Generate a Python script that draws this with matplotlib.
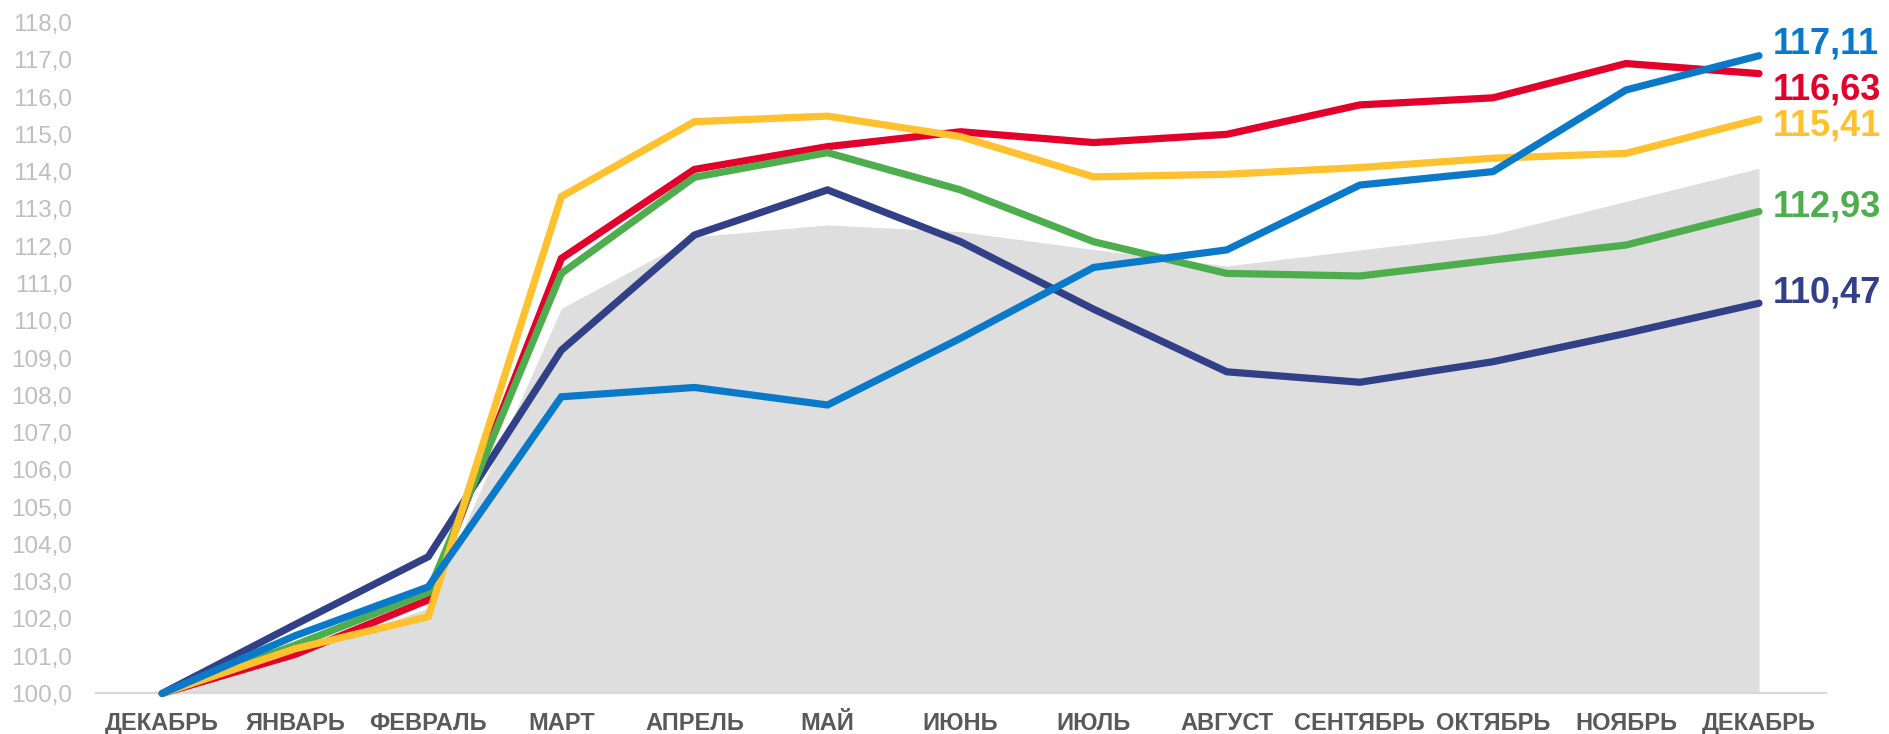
import matplotlib
matplotlib.use("Agg")
import matplotlib.pyplot as plt
from matplotlib.ticker import FuncFormatter

plt.rcParams['font.family'] = ['Liberation Sans', 'DejaVu Sans']

months = ["ДЕКАБРЬ", "ЯНВАРЬ", "ФЕВРАЛЬ", "МАРТ", "АПРЕЛЬ", "МАЙ", "ИЮНЬ",
          "ИЮЛЬ", "АВГУСТ", "СЕНТЯБРЬ", "ОКТЯБРЬ", "НОЯБРЬ", "ДЕКАБРЬ"]

# серая область (фон)
area = [100.0, 101.0, 102.3, 110.33, 112.25, 112.57, 112.39, 111.91, 111.47,
        111.9, 112.32, 113.2, 114.09]

navy = [100.0, 101.85, 103.67, 109.21, 112.30, 113.51, 112.12, 110.31, 108.63,
        108.35, 108.9, 109.66, 110.47]
red = [100.0, 101.05, 102.51, 111.67, 114.06, 114.67, 115.07, 114.78, 115.0,
       115.79, 115.98, 116.9, 116.63]
green = [100.0, 101.3, 102.71, 111.27, 113.85, 114.51, 113.51, 112.12, 111.27,
         111.2, 111.63, 112.03, 112.93]
yellow = [100.0, 101.2, 102.06, 113.33, 115.34, 115.49, 114.94, 113.86, 113.93,
          114.11, 114.36, 114.49, 115.41]
blue = [100.0, 101.55, 102.86, 107.96, 108.21, 107.74, 109.53, 111.43, 111.9,
        113.64, 114.0, 116.19, 117.11]

end_labels = ["110,47", "116,63", "112,93", "115,41", "117,11"]

fig = plt.figure(figsize=(18.89, 7.34), dpi=100)
ax = fig.add_axes([0.0506, 0.0552, 0.9158, 0.9141])

x = list(range(len(months)))

ax.fill_between(x, 100, area, color='#DEDEDE', lw=0, zorder=1)

series = [
    (navy, '#324087', end_labels[0], 7),
    (red, '#E3002B', end_labels[1], -12),
    (green, '#4EAE4E', end_labels[2], 3),
    (yellow, '#FFC12E', end_labels[3], -5),
    (blue, '#0B79C9', end_labels[4], 8.5),
]

for i, (vals, col, lab, dy) in enumerate(series):
    ax.plot(x, vals, color=col, lw=5.2, solid_capstyle='round',
            solid_joinstyle='miter', zorder=3 + i, clip_on=False)
    ax.annotate(lab, xy=(x[-1], vals[-1]), xytext=(10, dy),
                textcoords='offset points', ha='left', va='center',
                fontsize=26, fontweight='bold', color=col,
                annotation_clip=False)

ax.set_xlim(-0.5, 12.5)
ax.set_ylim(100, 118)
ax.set_yticks(range(100, 119))
ax.yaxis.set_major_formatter(FuncFormatter(lambda v, p: f"{v:.1f}".replace('.', ',')))
ax.set_xticks(x)
ax.set_xticklabels(months, fontsize=17, fontweight='bold', color='#595959')
ax.tick_params(axis='y', length=0, pad=17, labelsize=17.5, labelcolor='#BFBFBF')
ax.tick_params(axis='x', length=0, pad=13)

for s in ['top', 'right', 'left']:
    ax.spines[s].set_visible(False)
ax.spines['bottom'].set_color('#D9D9D9')
ax.spines['bottom'].set_linewidth(1.6)
ax.spines['bottom'].set_zorder(2)

fig.savefig('out.png', dpi=100)
